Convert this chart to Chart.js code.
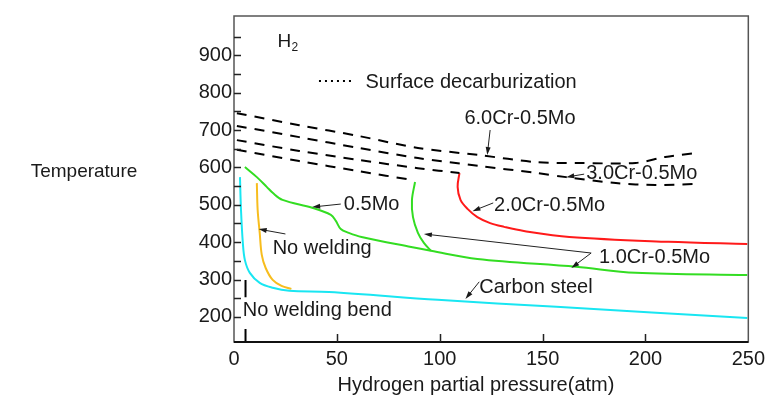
<!DOCTYPE html>
<html>
<head>
<meta charset="utf-8">
<script src="https://cdn.jsdelivr.net/npm/chart.js@4"></script>
<style>
  body { margin: 0; background: #fff; }
  canvas { display: block; }
</style>
</head>
<body>
<canvas id="nelson" width="770" height="402"></canvas>
<script>
// Nelson-type curves: temperature vs hydrogen partial pressure

// axis ticks
const xTickLabels = [0, 50, 100, 150, 200, 250];
const yTickLabels = [200, 300, 400, 500, 600, 700, 800, 900];
const yTickMarks = [200, 250, 300, 350, 400, 450, 500, 550, 600, 650, 700, 750, 800, 850, 900, 950];

// surface decarburization (dashed)
const dec6CrP = [1.4, 31.7, 60.6, 89.4, 119.2, 147.1, 166.3, 195.2, 209.6, 224];
const dec6CrT = [745, 713, 684, 652, 633, 614, 612, 612, 628, 638];
const dec3CrP = [1.4, 31.7, 60.6, 89.4, 119.2, 147.1, 161.5, 185.6, 204.8, 226.4];
const dec3CrT = [711, 681, 652, 625, 604, 585, 574, 558, 553, 556];
const dec2CrP = [1.4, 31.7, 60.6, 89.4, 109.6];
const dec2CrT = [673, 644, 620, 598, 585];
const dec1CrP = [1.4, 31.7, 60.6, 87];
const dec1CrT = [647, 617, 590, 566];

// solid curves
const carbonP = [2.9, 3.4, 4.3, 5.3, 7.7, 12.5, 18.8, 26.9, 46.2, 99, 156.7, 249.5];
const carbonT = [574, 486, 398, 352, 318, 291, 278, 270, 267, 246, 227, 197];
const noWeldP = [11.1, 11.5, 12.5, 13.5, 15.4, 18.8, 23.1, 27.9];
const noWeldT = [558, 486, 425, 366, 331, 299, 283, 275];
const mo05P = [5.3, 11.1, 15.9, 18.8, 23.6, 38, 47.1, 49.5, 51.9, 55.8, 62, 86.1, 95.7, 118.3, 166.3, 195.2, 249.5];
const mo05T = [601, 574, 548, 532, 513, 492, 473, 457, 435, 425, 414, 387, 377, 355, 334, 318, 312];
const cr1P = [88, 86.5, 87, 89.4, 92.3, 95.7];
const cr1T = [561, 513, 467, 425, 398, 377];
const cr2P = [109.6, 108.7, 110.1, 113.5, 118.3, 124.5, 131.3, 140.9, 163, 211.1, 249.5];
const cr2T = [585, 548, 513, 489, 467, 451, 441, 430, 414, 401, 395];

// "no welding bend" marker at about 5.6 atm (gap where the label sits)
const bendP = [5.6, 5.6, null, 5.6, 5.6];
const bendT = [299, 253, null, 168, 133];

const pts = (xs, ys) => xs.map((x, i) => (x === null ? { x: NaN, y: NaN } : { x: x, y: ys[i] }));

const dashed = (xs, ys) => ({
  data: pts(xs, ys), showLine: true, borderColor: '#000', borderWidth: 2,
  borderDash: [10, 8], pointRadius: 0, tension: 0.3, fill: false
});
const solid = (xs, ys, color) => ({
  data: pts(xs, ys), showLine: true, borderColor: color, borderWidth: 2,
  pointRadius: 0, tension: 0.35, fill: false
});

// text labels and arrows, in data coordinates
const notes = [
  { text: 'Surface decarburization', at: [63.9, 828] },
  { text: '6.0Cr-0.5Mo', at: [112, 732], arrows: [[[124.5, 700], [123.1, 633]]] },
  { text: '3.0Cr-0.5Mo', at: [171.2, 585], arrows: [[[170.2, 582], [161.5, 574]]] },
  { text: '2.0Cr-0.5Mo', at: [126.4, 497], arrows: [[[126, 505], [115.9, 483]]] },
  { text: '0.5Mo', at: [53.4, 500], arrows: [[[51.9, 502], [38, 494]]] },
  { text: 'No welding', at: [18.8, 382], arrows: [[[25, 422], [12, 435]]] },
  { text: '1.0Cr-0.5Mo', at: [177.4, 358], arrows: [[[173.6, 371], [92.3, 422]], [[173.6, 371], [164, 331]]] },
  { text: 'Carbon steel', at: [119.2, 280], arrows: [[[119.2, 294], [112.5, 248]]] },
  { text: 'No welding bend', at: [4.3, 216] }
];

const FONT = '"Liberation Sans", Arial, sans-serif';
const INK = '#1a1a1a';

function arrow(ctx, x1, y1, x2, y2) {
  const a = Math.atan2(y2 - y1, x2 - x1);
  ctx.beginPath();
  ctx.moveTo(x1, y1);
  ctx.lineTo(x2 - 5 * Math.cos(a), y2 - 5 * Math.sin(a));
  ctx.stroke();
  ctx.beginPath();
  ctx.moveTo(x2, y2);
  ctx.lineTo(x2 - 8 * Math.cos(a) + 2.5 * Math.sin(a), y2 - 8 * Math.sin(a) - 2.5 * Math.cos(a));
  ctx.lineTo(x2 - 8 * Math.cos(a) - 2.5 * Math.sin(a), y2 - 8 * Math.sin(a) + 2.5 * Math.cos(a));
  ctx.closePath();
  ctx.fill();
}

const decorations = {
  id: 'decorations',
  afterDraw(chart) {
    const ctx = chart.ctx;
    const a = chart.chartArea;
    const xs = chart.scales.x, ys = chart.scales.y;
    const px = v => xs.getPixelForValue(v), py = v => ys.getPixelForValue(v);
    ctx.save();

    // frame
    ctx.strokeStyle = '#555';
    ctx.lineWidth = 1.5;
    ctx.strokeRect(a.left, a.top, a.right - a.left, a.bottom - a.top);
    ctx.strokeStyle = '#111';
    ctx.lineWidth = 2;
    ctx.beginPath();
    ctx.moveTo(a.left, a.bottom);
    ctx.lineTo(a.right, a.bottom);
    ctx.stroke();

    // inward ticks
    ctx.strokeStyle = '#222';
    ctx.lineWidth = 1.5;
    ctx.beginPath();
    yTickMarks.forEach(v => {
      const y = Math.round(py(v)) + 0.5;
      ctx.moveTo(a.left, y);
      ctx.lineTo(a.left + 7, y);
    });
    xTickLabels.slice(1, -1).forEach(v => {
      const x = Math.round(px(v)) + 0.5;
      ctx.moveTo(x, a.bottom);
      ctx.lineTo(x, a.bottom - 8);
    });
    ctx.stroke();

    // H2
    ctx.fillStyle = INK;
    ctx.textBaseline = 'middle';
    ctx.textAlign = 'left';
    ctx.font = '19px ' + FONT;
    const hx = px(21.2), hy = py(935);
    ctx.fillText('H', hx, hy);
    ctx.font = '12px ' + FONT;
    ctx.fillText('2', hx + 14, hy + 6);

    // dotted legend sample
    ctx.strokeStyle = '#000';
    ctx.lineWidth = 2;
    ctx.setLineDash([2, 4]);
    ctx.beginPath();
    ctx.moveTo(px(41.3), py(831));
    ctx.lineTo(px(57.2), py(831));
    ctx.stroke();
    ctx.setLineDash([]);

    // labels + arrows
    ctx.font = '20px ' + FONT;
    ctx.strokeStyle = '#222';
    ctx.fillStyle = INK;
    ctx.lineWidth = 1;
    notes.forEach(n => {
      ctx.fillText(n.text, px(n.at[0]), py(n.at[1]));
      (n.arrows || []).forEach(ar => arrow(ctx, px(ar[0][0]), py(ar[0][1]), px(ar[1][0]), py(ar[1][1])));
    });

    // axis titles
    ctx.font = '19px ' + FONT;
    ctx.textAlign = 'center';
    ctx.fillText('Temperature', 84, 172);
    ctx.font = '20px ' + FONT;
    ctx.fillText('Hydrogen partial pressure(atm)', 476, 385);
    ctx.restore();
  }
};

new Chart(document.getElementById('nelson').getContext('2d'), {
  type: 'scatter',
  data: {
    datasets: [
      dashed(dec6CrP, dec6CrT),
      dashed(dec3CrP, dec3CrT),
      dashed(dec2CrP, dec2CrT),
      dashed(dec1CrP, dec1CrT),
      Object.assign(dashed(bendP, bendT), { borderDash: [], borderWidth: 2, tension: 0, spanGaps: false }),
      solid(carbonP, carbonT, '#19e6f2'),
      solid(noWeldP, noWeldT, '#f7bd1e'),
      solid(mo05P, mo05T, '#33dd22'),
      solid(cr1P, cr1T, '#33dd22'),
      solid(cr2P, cr2T, '#ff1a1a')
    ]
  },
  options: {
    responsive: false,
    animation: false,
    events: [],
    layout: { padding: { top: 16, right: 16, left: 0, bottom: 0 } },
    plugins: { legend: { display: false }, tooltip: { enabled: false } },
    scales: {
      x: {
        type: 'linear', min: 0, max: 250,
        afterBuildTicks: s => { s.ticks = xTickLabels.map(v => ({ value: v })); },
        afterFit: s => { s.height = 60; },
        grid: { display: false, drawTicks: false },
        border: { display: false },
        ticks: { padding: 5, color: INK, font: { size: 20, family: FONT }, maxRotation: 0 }
      },
      y: {
        type: 'linear', min: 133, max: 1005,
        afterBuildTicks: s => { s.ticks = yTickLabels.map(v => ({ value: v })); },
        afterFit: s => { s.width = 234; },
        grid: { display: false, drawTicks: false },
        border: { display: false },
        ticks: { padding: 2, color: INK, font: { size: 20, family: FONT } }
      }
    }
  },
  plugins: [decorations]
});
</script>
</body>
</html>
